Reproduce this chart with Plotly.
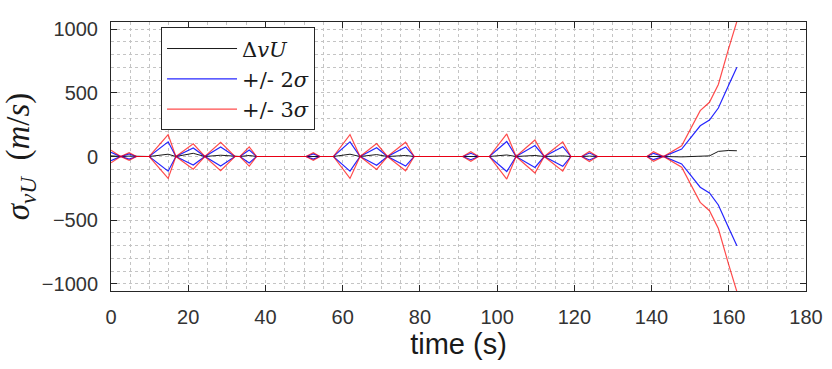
import plotly.graph_objects as go

# time samples (s)
t = [0, 2.5, 4.7, 6.6, 9.9, 14.8, 16.8, 21.3, 24.3, 28.4, 32.1, 33.4, 35.8, 37.7,
     50.5, 52.4, 54.1, 57.6, 61.9, 64.5, 68.8, 71.6, 76.3, 78.5, 91.1, 93.2, 95.2,
     98.0, 102.5, 104.9, 109.8, 112.2, 117.0, 119.1, 121.9, 123.9, 126.0, 138.8,
     140.5, 143.1, 147.8, 152.6, 155.0, 157.3, 159.9, 162.1]

# Delta vU (m/s)
dvu = [5, 0, 3, 0, 0, 18, 0, 25, 0, 10, 0, 0, 8, 0,
       0, 3, 0, 0, 18, 0, 15, 0, 8, 0, 0, 3, 0,
       0, 12, 0, 8, 0, 5, 0, 0, 3, 0, 0,
       3, 0, -3, 3, 5, 40, 47, 45]

# 2 sigma envelope (m/s)
two_sigma = [33, 0, 20, 0, 0, 115, 0, 67, 0, 75, 0, 0, 50, 0,
             0, 20, 0, 0, 115, 0, 68, 0, 75, 0, 0, 25, 0,
             0, 118, 0, 86, 0, 77, 0, 0, 27, 0, 0,
             25, 0, 58, 241, 286, 380, 555, 700]

# 3 sigma envelope (m/s)
three_sigma = [50, 0, 30, 0, 0, 172, 0, 100, 0, 112, 0, 0, 75, 0,
               0, 30, 0, 0, 172, 0, 102, 0, 112, 0, 0, 38, 0,
               0, 177, 0, 129, 0, 115, 0, 0, 40, 0, 0,
               38, 0, 84, 360, 425, 565, 840, 1060]

x_ticks = [0, 20, 40, 60, 80, 100, 120, 140, 160, 180]
y_ticks = [-1000, -500, 0, 500, 1000]

fig = go.Figure()
fig.add_trace(go.Scatter(x=t, y=dvu, mode="lines", name="Δ<i>vU</i>",
                         line=dict(color="#1a1a1a", width=1)))
fig.add_trace(go.Scatter(x=t, y=two_sigma, mode="lines", name="+/- 2<i>σ</i>",
                         line=dict(color="#0000ff", width=1.2), opacity=0.85))
fig.add_trace(go.Scatter(x=t, y=[-v for v in two_sigma], mode="lines", showlegend=False,
                         line=dict(color="#0000ff", width=1.2), opacity=0.85))
fig.add_trace(go.Scatter(x=t, y=three_sigma, mode="lines", name="+/- 3<i>σ</i>",
                         line=dict(color="#ff0000", width=1.2), opacity=0.7))
fig.add_trace(go.Scatter(x=t, y=[-v for v in three_sigma], mode="lines", showlegend=False,
                         line=dict(color="#ff0000", width=1.2), opacity=0.7))

axis_common = dict(
    showline=True, linecolor="#262626", linewidth=1, mirror="ticks",
    ticks="inside", ticklen=6, tickcolor="#262626", tickwidth=1,
    showgrid=True, gridcolor="#c4c4c4", griddash="dot", gridwidth=1,
    zeroline=False, automargin=False,
    tickfont=dict(family="Liberation Sans, Arial, sans-serif", size=20, color="#333333"),
)

fig.update_xaxes(
    range=[0, 180], tickvals=x_ticks, ticklabelstandoff=8,
    minor=dict(dtick=5, showgrid=True, gridcolor="#c4c4c4", griddash="dot", ticks=""),
    title=dict(text="time (s)", font=dict(family="Liberation Sans, Arial, sans-serif",
                                          size=29, color="#1a1a1a"), standoff=6),
    **axis_common,
)
fig.update_yaxes(
    range=[-1055, 1055], tickvals=y_ticks, ticklabelstandoff=8,
    minor=dict(dtick=100, showgrid=True, gridcolor="#c4c4c4", griddash="dot", ticks=""),
    title=dict(text="<i>σ</i><sub><i>vU</i></sub>  (<i>m</i>/<i>s</i>)",
               font=dict(family="Liberation Serif, DejaVu Serif, serif", size=33, color="#1a1a1a"),
               standoff=12),
    **axis_common,
)

fig.update_layout(
    width=832, height=369,
    margin=dict(l=111, r=26, t=22, b=78),
    paper_bgcolor="white", plot_bgcolor="white",
    showlegend=True,
    legend=dict(x=0.072, y=0.98, xanchor="left", yanchor="top",
                bgcolor="white", bordercolor="#262626", borderwidth=1,
                font=dict(family="DejaVu Serif, Liberation Serif, serif", size=21, color="#1a1a1a"),
                itemwidth=70),
)

fig.write_html("out.html")
